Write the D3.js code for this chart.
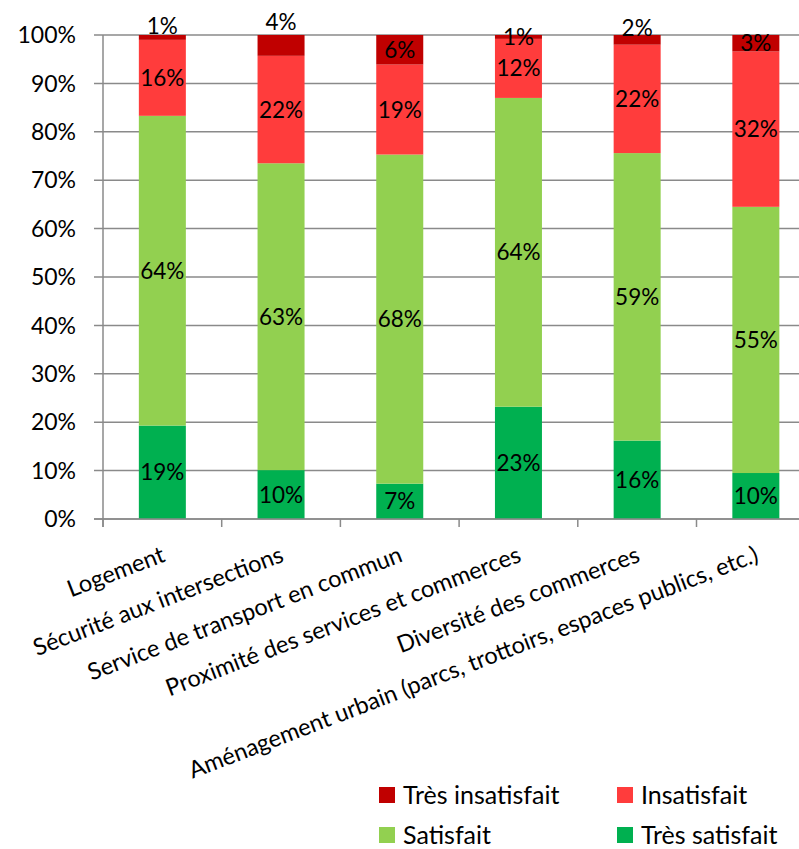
<!DOCTYPE html>
<html>
<head>
<meta charset="utf-8">
<script src="https://cdn.jsdelivr.net/npm/d3@7"></script>
<style>
  html, body { margin: 0; padding: 0; background: #fff; }
  svg { display: block; font-family: Lato, "Liberation Sans", sans-serif; }
</style>
</head>
<body>
<svg id="chart" width="799" height="849"></svg>
<script>
// ---- data ----
const categories = [
  "Logement",
  "Sécurité aux intersections",
  "Service de transport en commun",
  "Proximité des services et commerces",
  "Diversité des commerces",
  "Aménagement urbain (parcs, trottoirs, espaces publics, etc.)"
];
const seriesNames = ["Très satisfait", "Satisfait", "Insatisfait", "Très insatisfait"];
const tresSatisfait   = [19.3, 10.1, 7.3, 23.2, 16.2, 9.5];
const satisfait       = [64.0, 63.4, 68.0, 63.8, 59.4, 55.0];
const insatisfait     = [15.7, 22.2, 18.6, 12.2, 22.4, 32.1];
const tresInsatisfait = [1.0, 4.3, 6.1, 0.8, 2.0, 3.4];
const yTicks = [0, 10, 20, 30, 40, 50, 60, 70, 80, 90, 100];

// ---- styles ----
const colors = {
  "Très satisfait": "#00B050",
  "Satisfait": "#92D050",
  "Insatisfait": "#FF3C3C",
  "Très insatisfait": "#C00000"
};
// manual vertical nudges applied to the top (Très insatisfait) labels, px
const topLabelNudge = [-12, -24, 0, 0, -12, 0];

const svg = d3.select("#chart");
const plotLeft = 103, plotTop = 35, plotBottom = 519;
const step = 118.7;
const plotRight = plotLeft + step * categories.length;

const table = categories.map((c, i) => ({
  cat: c,
  "Très satisfait": tresSatisfait[i],
  "Satisfait": satisfait[i],
  "Insatisfait": insatisfait[i],
  "Très insatisfait": tresInsatisfait[i]
}));
const totals = table.map(d => seriesNames.reduce((s, k) => s + d[k], 0));
const norm = table.map((d, i) => {
  const o = { cat: d.cat };
  seriesNames.forEach(k => o[k] = d[k] / totals[i] * 100);
  return o;
});

const x = d3.scaleBand().domain(categories).range([plotLeft, plotRight]).padding(0);
const y = d3.scaleLinear().domain([0, 100]).range([plotBottom, plotTop]);
const barW = x.bandwidth() * 0.396;

// gridlines
const grid = svg.append("g");
grid.selectAll("line").data(yTicks).join("line")
  .attr("x1", plotLeft - 9).attr("x2", plotRight)
  .attr("y1", d => y(d)).attr("y2", d => y(d))
  .attr("stroke", "#8a8a8a").attr("stroke-width", 1.5);

// y axis labels
svg.append("g").selectAll("text").data(yTicks).join("text")
  .attr("x", 76).attr("y", d => y(d)).attr("dy", "0.36em")
  .attr("text-anchor", "end").attr("font-size", 23).attr("fill", "#000")
  .text(d => d + "%");

// stacks
const stack = d3.stack().keys(seriesNames);
const layers = stack(norm);

const gBars = svg.append("g");
layers.forEach(layer => {
  gBars.selectAll(null).data(layer).join("rect")
    .attr("x", d => x(d.data.cat) + (x.bandwidth() - barW) / 2)
    .attr("width", barW)
    .attr("y", d => y(d[1]))
    .attr("height", d => y(d[0]) - y(d[1]))
    .attr("fill", colors[layer.key]);
});

// y axis line + x ticks
svg.append("line").attr("x1", plotLeft).attr("x2", plotLeft).attr("y1", plotTop).attr("y2", plotBottom + 8)
  .attr("stroke", "#8a8a8a").attr("stroke-width", 1.5);
svg.append("line").attr("x1", plotLeft - 9).attr("x2", plotRight).attr("y1", plotBottom).attr("y2", plotBottom)
  .attr("stroke", "#8a8a8a").attr("stroke-width", 1.5);
svg.append("g").selectAll("line").data(d3.range(categories.length + 1)).join("line")
  .attr("x1", i => plotLeft + i * x.step()).attr("x2", i => plotLeft + i * x.step())
  .attr("y1", plotBottom).attr("y2", plotBottom + 8)
  .attr("stroke", "#8a8a8a").attr("stroke-width", 1.5);

// data labels
const rawBySeries = {
  "Très satisfait": tresSatisfait,
  "Satisfait": satisfait,
  "Insatisfait": insatisfait,
  "Très insatisfait": tresInsatisfait
};
layers.forEach(layer => {
  svg.append("g").selectAll("text").data(layer).join("text")
    .attr("x", d => x(d.data.cat) + x.bandwidth() / 2)
    .attr("y", (d, i) => (y(d[0]) + y(d[1])) / 2 + (layer.key === "Très insatisfait" ? topLabelNudge[i] : 0))
    .attr("dy", "0.36em")
    .attr("text-anchor", "middle").attr("font-size", 22.5).attr("fill", "#000")
    .text((d, i) => Math.round(rawBySeries[layer.key][i]) + "%");
});

// x axis labels (rotated)
svg.append("g").selectAll("text").data(categories).join("text")
  .attr("transform", d => `translate(${x(d) + x.bandwidth() / 2 + 4},${plotBottom + 42}) rotate(-21)`)
  .attr("text-anchor", "end").attr("font-size", 23.5).attr("fill", "#000")
  .text(d => d);

// legend
const legendItems = [
  { name: "Très insatisfait", col: 0, row: 0 },
  { name: "Insatisfait", col: 1, row: 0 },
  { name: "Satisfait", col: 0, row: 1 },
  { name: "Très satisfait", col: 1, row: 1 }
];
const lg = svg.append("g");
const lgX = [379, 617], lgY = [787, 827];
legendItems.forEach(it => {
  lg.append("rect").attr("x", lgX[it.col]).attr("y", lgY[it.row])
    .attr("width", 16).attr("height", 16).attr("fill", colors[it.name]);
  lg.append("text").attr("x", lgX[it.col] + 24).attr("y", lgY[it.row] + 8).attr("dy", "0.36em")
    .attr("font-size", 25).attr("fill", "#000").text(it.name);
});
</script>
</body>
</html>
